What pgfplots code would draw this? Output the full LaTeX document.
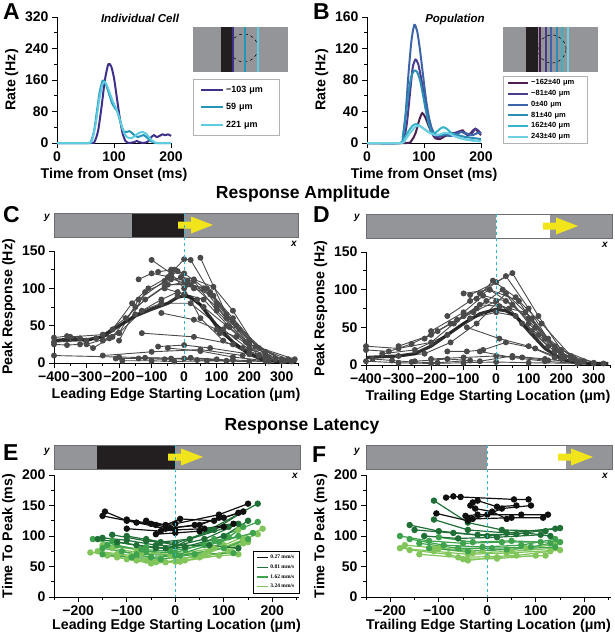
\documentclass[border=0pt]{standalone}
\usepackage{pgfplots}
\pgfplotsset{compat=1.18}
\usepackage{fontspec}
\setmainfont{Liberation Sans}
\newfontfamily\serif{Liberation Serif}
\definecolor{cgray}{HTML}{4A4A4A}
\definecolor{stimgray}{HTML}{939598}
\definecolor{stimedge}{HTML}{6D6E71}
\definecolor{stimblack}{HTML}{231F20}
\definecolor{cyanline}{HTML}{35B6C9}
\definecolor{yel}{HTML}{F1E41B}
\definecolor{a1}{HTML}{3D2F8A}
\definecolor{a2}{HTML}{2596B8}
\definecolor{a3}{HTML}{5FCBE0}
\definecolor{b1}{HTML}{4A1F4F}
\definecolor{b2}{HTML}{4A3B8C}
\definecolor{b3}{HTML}{3D64A8}
\definecolor{b4}{HTML}{2B8DB5}
\definecolor{b5}{HTML}{35B3C8}
\definecolor{b6}{HTML}{6FD0E3}
\definecolor{g1}{HTML}{101010}
\definecolor{g2}{HTML}{1F6F36}
\definecolor{g3}{HTML}{3FA34D}
\definecolor{g4}{HTML}{82C55B}
\pgfplotsset{
 base/.style={scale only axis, axis lines=left, axis line style={-, black, line width=0.8pt},
  tick align=outside, tick style={black, line width=0.8pt}, major tick length=5pt, minor tick length=3pt,
  tick label style={font=\fontsize{14}{14}\selectfont\bfseries},
  label style={font=\fontsize{14.2}{15}\selectfont\bfseries},
  /pgf/number format/assume math mode=true, clip=false},
 cc/.style={color=cgray, line width=0.9pt, mark=*, mark size=2.5pt, mark options={solid, fill=cgray, draw=cgray}},
 mean/.style={color=black!90, line width=3.2pt, mark=none, opacity=0.9},
 e1/.style={color=g1, line width=1.2pt, mark=*, mark size=2.6pt, mark options={solid,fill=g1,draw=g1}},
 e2/.style={color=g2, line width=1.2pt, mark=*, mark size=2.6pt, mark options={solid,fill=g2,draw=g2}},
 e3/.style={color=g3, line width=1.2pt, mark=*, mark size=2.6pt, mark options={solid,fill=g3,draw=g3}},
 e4/.style={color=g4, line width=1.2pt, mark=*, mark size=2.6pt, mark options={solid,fill=g4,draw=g4}},
 cur/.style={line width=2pt, smooth, tension=0.4, mark=none},
}
\newcommand{\yarrow}[2]{\fill[yel, shift={(#1pt,-#2pt)}] (0pt,3.5pt) -- (13pt,3.5pt) -- (13pt,8.5pt) -- (35pt,0pt) -- (13pt,-8.5pt) -- (13pt,-3.5pt) -- (0pt,-3.5pt) -- cycle;}
\begin{document}
\begin{tikzpicture}
\useasboundingbox (0,0) rectangle (614pt,-639pt);
% ---------- insets A, B
\fill[stimgray] (193pt,-27pt) rectangle (288pt,-72pt);
\draw[dashed, line width=0.5pt] (244pt,-48pt) circle (14pt);
\fill[stimblack] (221pt,-27pt) rectangle (232pt,-72pt);
\draw[a1, line width=1.5pt] (233pt,-27pt) -- (233pt,-72pt);
\draw[a2, line width=1.5pt] (245pt,-27pt) -- (245pt,-72pt);
\draw[a3, line width=1.5pt] (258pt,-27pt) -- (258pt,-72pt);
\fill[stimgray] (503pt,-27pt) rectangle (598pt,-72pt);
\draw[dashed, line width=0.5pt] (552pt,-49pt) circle (14pt);
\fill[stimblack] (526pt,-27pt) rectangle (538pt,-72pt);
\draw[b1, line width=1.3pt] (540pt,-27pt) -- (540pt,-72pt);
\draw[b2, line width=1.3pt] (546pt,-27pt) -- (546pt,-72pt);
\draw[b3, line width=1.3pt] (551pt,-27pt) -- (551pt,-72pt);
\draw[b4, line width=1.3pt] (557pt,-27pt) -- (557pt,-72pt);
\draw[b5, line width=1.3pt] (562pt,-27pt) -- (562pt,-72pt);
\draw[b6, line width=1.3pt] (568pt,-27pt) -- (568pt,-72pt);
% ---------- stimulus bars
\fill[stimgray] (54pt,-213pt) rectangle (298pt,-237pt);
\fill[stimblack] (132pt,-213pt) rectangle (184pt,-237pt);
\draw[stimedge, line width=0.6pt] (54pt,-213pt) rectangle (298pt,-237pt);
\yarrow{178}{225}
\fill[stimgray] (366pt,-214pt) rectangle (612pt,-238pt);
\fill[white] (496pt,-214pt) rectangle (550pt,-238pt);
\draw[stimedge, line width=0.6pt] (366pt,-214pt) rectangle (612pt,-238pt);
\yarrow{543}{226}
\fill[stimgray] (54pt,-445pt) rectangle (300pt,-469pt);
\fill[stimblack] (97pt,-445pt) rectangle (175pt,-469pt);
\draw[stimedge, line width=0.6pt] (54pt,-445pt) rectangle (300pt,-469pt);
\yarrow{168}{457}
\fill[stimgray] (366pt,-445pt) rectangle (612pt,-469pt);
\fill[white] (487pt,-445pt) rectangle (566pt,-469pt);
\draw[stimedge, line width=0.6pt] (366pt,-445pt) rectangle (612pt,-469pt);
\yarrow{558}{457}
\foreach \px/\py in {47/218, 357/218, 47/452, 357/452} {\node[font=\fontsize{10}{10}\selectfont\bfseries\itshape] at (\px pt,-\py pt) {y};}
\foreach \px/\py in {294/244, 605/245, 295/476, 605/476} {\node[font=\fontsize{10}{10}\selectfont\bfseries\itshape] at (\px pt,-\py pt) {x};}
% ---------- labels
\foreach \l/\px/\py in {A/3/20, B/313/20, C/3/222, D/313/222, E/3/460, F/312/462} {\node[anchor=base west, inner sep=0pt, font=\fontsize{23}{23}\selectfont\bfseries] at (\px pt,-\py pt) {\l};}
\node[anchor=base, inner sep=0pt, font=\fontsize{17.5}{17.5}\selectfont\bfseries] at (303pt,-198pt) {Response Amplitude};
\node[anchor=base, inner sep=0pt, font=\fontsize{17.5}{17.5}\selectfont\bfseries] at (302pt,-430pt) {Response Latency};
\node[anchor=base, inner sep=0pt, font=\fontsize{11.5}{11.5}\selectfont\bfseries\itshape] at (140pt,-23pt) {Individual Cell};
\node[anchor=base, inner sep=0pt, font=\fontsize{11.5}{11.5}\selectfont\bfseries\itshape] at (455pt,-23pt) {Population};
% ---------- A
\begin{axis}[base, at={(57pt,-143pt)}, anchor=south west, width=114pt, height=126pt,
 xmin=0, xmax=200, ymin=0, ymax=320, xtick={0,100,200}, ytick={0,80,160,240,320}, minor ytick={40,120,200,280},
 xlabel={Time from Onset (ms)}, ylabel={Rate (Hz)}, legend cell align=left,
 legend style={at={(1.193,0.508)}, anchor=north west, draw=gray!60, font=\fontsize{9}{9}\selectfont\bfseries, row sep=5.5pt, inner xsep=7pt, inner ysep=5pt, text width=44pt},
 legend image code/.code={\draw[#1, mark=none] (0pt,0pt) -- (22pt,0pt);}]
\addplot[cur, a1] coordinates {(0,0)(60,0)(66,4)(72,30)(78,90)(84,160)(90,200)(95,195)(100,165)(105,115)(110,65)(115,25)(120,5)(125,0)(135,2)(140,5)(145,2)(152,0)(160,4)(165,14)(170,20)(175,15)(180,18)(185,22)(190,20)(195,22)(200,18)};
\addlegendentry{−103 μm}
\addplot[cur, a2] coordinates {(0,0)(55,0)(60,5)(65,30)(70,80)(75,130)(80,158)(84,155)(88,140)(92,122)(97,100)(102,88)(106,80)(110,60)(114,40)(118,28)(122,28)(127,30)(132,25)(137,18)(142,15)(147,18)(152,20)(157,15)(162,8)(167,3)(172,0)(200,0)};
\addlegendentry{59 μm}
\addplot[cur, a3] coordinates {(0,0)(55,0)(62,10)(68,50)(74,110)(80,150)(84,155)(88,145)(93,125)(98,105)(103,90)(108,70)(113,45)(118,25)(123,15)(130,12)(137,18)(143,25)(150,28)(155,25)(160,18)(165,8)(170,3)(176,0)(200,0)};
\addlegendentry{221 μm}
\end{axis}
% ---------- B
\begin{axis}[base, at={(367pt,-143pt)}, anchor=south west, width=114pt, height=126pt,
 xmin=0, xmax=200, ymin=0, ymax=160, xtick={0,100,200}, ytick={0,40,80,120,160}, minor ytick={20,60,100,140},
 xlabel={Time from Onset (ms)}, ylabel={Rate (Hz)}, legend cell align=left,
 legend style={at={(1.193,0.532)}, anchor=north west, draw=gray!60, font=\fontsize{7.5}{7.5}\selectfont\bfseries, row sep=0pt, inner xsep=4pt, inner ysep=1.5pt, text width=50pt},
 legend image code/.code={\draw[#1, mark=none] (0pt,0pt) -- (20pt,0pt);}]
\addplot[cur, b1] coordinates {(0,0)(70,0)(78,3)(85,12)(92,30)(97,38)(102,33)(108,22)(114,12)(120,6)(128,5)(135,8)(142,10)(150,10)(157,12)(163,15)(168,16)(173,12)(178,10)(185,15)(190,18)(195,14)(200,10)};
\addlegendentry{−162±40 μm}
\addplot[cur, b2] coordinates {(0,0)(60,0)(65,5)(70,25)(75,60)(80,95)(85,106)(90,100)(95,82)(100,62)(105,40)(110,22)(115,12)(120,8)(128,8)(135,10)(145,12)(155,13)(163,15)(170,13)(178,10)(185,13)(190,18)(195,16)(200,12)};
\addlegendentry{−81±40 μm}
\addplot[cur, b3] coordinates {(0,0)(58,0)(63,8)(68,40)(73,90)(78,130)(83,150)(88,142)(93,118)(98,88)(103,58)(108,35)(113,20)(118,12)(125,10)(135,10)(145,9)(155,10)(165,14)(175,12)(185,10)(195,13)(200,12)};
\addlegendentry{0±40 μm}
\addplot[cur, b4] coordinates {(0,0)(58,0)(63,8)(68,35)(73,65)(78,85)(83,92)(88,90)(93,80)(98,62)(103,42)(108,25)(113,15)(120,10)(130,10)(140,12)(150,12)(160,10)(170,8)(180,7)(190,6)(200,5)};
\addlegendentry{81±40 μm}
\addplot[cur, b5] coordinates {(0,0)(58,0)(65,5)(72,14)(80,22)(86,24)(92,22)(100,18)(108,14)(115,12)(122,14)(128,18)(134,20)(140,18)(146,14)(152,10)(160,7)(170,5)(180,4)(190,3)(200,2)};
\addlegendentry{162±40 μm}
\addplot[cur, b6] coordinates {(0,0)(60,0)(68,5)(76,13)(84,20)(90,22)(96,20)(104,16)(112,12)(120,10)(128,11)(136,13)(144,12)(152,9)(160,7)(170,5)(185,3)(200,2)};
\addlegendentry{243±40 μm}
\end{axis}
% ---------- C
\begin{axis}[base, at={(54pt,-363pt)}, anchor=south west, width=244pt, height=112pt,
 xmin=-400, xmax=350, ymin=0, ymax=150, xtick={-400,-300,...,300}, xticklabels={−400,−300,−200,−100,0,100,200,300},
 minor xtick={-350,-250,...,350}, ytick={0,50,100,150}, minor ytick={25,75,125},
 xlabel={Leading Edge Starting Location (μm)}, ylabel={Peak Response (Hz)}]
\addplot[cc] coordinates {(-100,138)(-40,120)(0,100)(50,60)(120,30)(200,12)(300,3)};
\addplot[cc] coordinates {(-30,125)(0,139)(20,138)(100,80)(200,25)(340,5)};
\addplot[cc] coordinates {(50,141)(130,65)(200,30)(300,5)};
\addplot[cc] coordinates {(-80,122)(-40,125)(0,120)(80,95)(150,55)(250,15)};
\addplot[cc] coordinates {(-140,112)(-100,120)(-40,115)(10,110)(100,75)(200,20)};
\addplot[cc] coordinates {(-250,30)(-200,40)(-140,85)(-60,110)(-20,123)(30,100)(90,90)(170,45)(260,8)};
\addplot[cc] coordinates {(-300,25)(-220,35)(-150,75)(-50,105)(20,105)(80,92)(160,50)(250,10)};
\addplot[cc] coordinates {(-200,30)(-120,95)(-40,112)(30,110)(100,70)(200,25)};
\addplot[cc] coordinates {(-350,35)(-250,38)(-180,60)(-120,85)(-60,103)(0,108)(60,100)(130,60)(200,30)(300,4)};
\addplot[cc] coordinates {(-150,65)(-70,85)(-20,95)(60,85)(140,48)(230,10)};
\addplot[cc] coordinates {(-400,28)(-300,30)(-200,40)(-130,70)(-70,80)(20,80)(120,45)(200,18)(330,2)};
\addplot[cc] coordinates {(-70,67)(30,58)(100,45)(160,35)(250,8)};
\addplot[cc] coordinates {(-130,40)(30,35)(150,25)(250,5)};
\addplot[cc] coordinates {(-80,22)(0,24)(80,20)(200,12)};
\addplot[cc] coordinates {(-50,20)(50,16)(150,8)(250,3)};
\addplot[cc] coordinates {(-250,10)(-100,15)(50,18)(180,10)};
\addplot[cc] coordinates {(-400,10)(-200,8)(0,6)(150,4)(300,2)};
\addplot[cc] coordinates {(-210,6)(-140,6)(-60,5)(20,7)(100,5)};
\addplot[cc] coordinates {(-190,3)(-100,3)(-30,2)(70,3)(200,2)};
\addplot[cc] coordinates {(-120,7)(-40,6)(40,4)(130,3)(260,2)};
\addplot[cc] coordinates {(-400,34)(-360,36)(-320,33)(-280,20)(-230,33)};
\addplot[cc] coordinates {(-400,25)(-360,24)(-320,25)(-270,33)(-220,45)(-160,80)(-110,100)(-50,115)(10,105)(70,100)(150,60)(230,20)(320,5)};
\addplot[cc] coordinates {(-20,90)(40,85)(110,40)(180,20)(260,5)};
\addplot[cc] coordinates {(-60,100)(0,92)(60,75)(130,50)(190,28)(280,5)};
\addplot[cc] coordinates {(-10,115)(30,112)(90,102)(150,70)(220,22)(310,3)};
\addplot[mean] coordinates {(-400,30)(-350,32)(-300,31)(-250,35)(-200,50)(-150,63)(-100,72)(-50,80)(-20,88)(0,90)(20,88)(50,78)(100,50)(150,28)(200,12)(250,3)(300,2)(345,2)};
\end{axis}
% ---------- D
\begin{axis}[base, at={(366pt,-365pt)}, anchor=south west, width=244pt, height=113pt,
 xmin=-400, xmax=350, ymin=0, ymax=150, xtick={-400,-300,...,300}, xticklabels={−400,−300,−200,−100,0,100,200,300},
 minor xtick={-350,-250,...,350}, ytick={0,50,100,150}, minor ytick={25,75,125},
 xlabel={Trailing Edge Starting Location (μm)}, ylabel={Peak Response (Hz)}]
\addplot[cc] coordinates {(-80,93)(0,110)(50,122)(130,65)(200,20)(300,3)};
\addplot[cc] coordinates {(-50,95)(30,118)(100,75)(180,20)(260,5)};
\addplot[cc] coordinates {(-60,88)(-10,112)(60,90)(150,35)(230,8)};
\addplot[cc] coordinates {(-150,65)(-80,85)(-20,100)(50,80)(120,50)(200,15)};
\addplot[cc] coordinates {(-200,45)(-100,70)(-40,92)(30,85)(100,62)(180,25)(270,5)};
\addplot[cc] coordinates {(-300,25)(-200,40)(-120,60)(-50,80)(10,78)(90,70)(160,35)(240,8)};
\addplot[cc] coordinates {(-400,25)(-300,22)(-200,30)(-130,55)(-60,75)(20,100)(100,55)(200,15)};
\addplot[cc] coordinates {(-350,15)(-250,20)(-150,40)(-80,62)(0,70)(60,65)(130,40)(210,10)};
\addplot[cc] coordinates {(-400,20)(-330,18)(-260,28)(-180,45)(-100,65)(-30,85)(40,75)(110,45)(180,18)(260,4)};
\addplot[cc] coordinates {(-90,50)(10,35)(100,25)(180,10)};
\addplot[cc] coordinates {(-150,18)(-90,18)(-40,20)(30,30)(120,22)(200,8)};
\addplot[cc] coordinates {(-200,8)(-100,10)(0,12)(80,10)(160,6)};
\addplot[cc] coordinates {(-250,5)(-150,8)(-50,5)(50,12)(150,8)(250,3)};
\addplot[cc] coordinates {(-400,5)(-300,3)(-200,2)(-100,3)(0,4)(100,3)(300,2)};
\addplot[cc] coordinates {(-380,8)(-320,6)(-260,4)(-180,3)(-80,6)};
\addplot[cc] coordinates {(-100,95)(-20,100)(70,85)(140,55)(230,12)};
\addplot[cc] coordinates {(-220,35)(-140,55)(-70,70)(0,85)(80,55)(160,25)};
\addplot[cc] coordinates {(-50,18)(50,10)(150,5)(250,2)};
\addplot[cc] coordinates {(-300,12)(-220,15)(-140,30)(-60,55)(30,95)(110,62)(200,12)(330,2)};
\addplot[mean] coordinates {(-400,10)(-350,11)(-300,12)(-250,15)(-200,25)(-150,40)(-100,55)(-50,68)(0,74)(30,72)(60,65)(100,45)(150,22)(200,8)(250,3)(300,2)(345,2)};
\end{axis}
% ---------- E
\begin{axis}[base, at={(54pt,-597pt)}, anchor=south west, width=245pt, height=122pt,
 xmin=-250, xmax=255, ymin=0, ymax=200, xtick={-200,-100,0,100,200}, xticklabels={−200,−100,0,100,200},
 minor xtick={-250,-150,-50,50,150,250}, ytick={0,50,100,150,200}, minor ytick={25,75,125,175},
 xlabel={Leading Edge Starting Location (μm)}, ylabel={Time To Peak (ms)}, xlabel style={yshift=3pt}, legend cell align=left,
 legend style={at={(1.0,0.033)}, anchor=south east, draw=black, font=\serif\bfseries\fontsize{5.5}{5.5}\selectfont, row sep=0.6pt, inner xsep=2.5pt, inner ysep=1.5pt},
 legend image code/.code={\draw[#1, mark=none, line width=1.3pt] (0pt,0pt) -- (11pt,0pt);}]
\addlegendimage{g1}\addlegendentry{0.27 mm/s}
\addlegendimage{g2}\addlegendentry{0.81 mm/s}
\addlegendimage{g3}\addlegendentry{1.62 mm/s}
\addlegendimage{g4}\addlegendentry{3.24 mm/s}
\addplot[e4] coordinates {(-175,73)(-120,70)(-60,60)(0,58)(100,85)(180,112)};
\addplot[e4] coordinates {(-140,68)(-80,60)(-20,57)(60,70)(170,103)};
\addplot[e4] coordinates {(-120,65)(-50,55)(10,58)(90,68)(150,90)};
\addplot[e4] coordinates {(-100,62)(-40,57)(20,60)(110,75)(140,95)};
\addplot[e4] coordinates {(-160,75)(-90,68)(-30,63)(50,65)(130,70)};
\addplot[e4] coordinates {(-130,80)(-70,72)(0,70)(80,80)(130,110)};
\addplot[e4] coordinates {(-150,85)(-80,78)(-10,68)(70,75)(140,88)};
\addplot[e3] coordinates {(-170,95)(-120,85)(-60,75)(0,72)(80,95)(170,123)};
\addplot[e3] coordinates {(-150,80)(-80,70)(0,68)(90,90)(160,105)};
\addplot[e3] coordinates {(-140,85)(-70,78)(-10,75)(60,85)(130,100)};
\addplot[e3] coordinates {(-110,75)(-50,65)(10,68)(100,80)(150,95)};
\addplot[e3] coordinates {(-150,70)(-90,65)(-30,62)(40,70)(120,72)};
\addplot[e3] coordinates {(-130,92)(-60,82)(20,78)(110,98)(140,115)};
\addplot[e2] coordinates {(-150,97)(-100,93)(-40,85)(0,83)(70,110)(170,153)};
\addplot[e2] coordinates {(-130,102)(-60,92)(0,88)(80,110)(140,140)};
\addplot[e2] coordinates {(-160,95)(-80,85)(-20,80)(60,95)(130,120)};
\addplot[e2] coordinates {(-120,90)(-40,80)(20,82)(100,100)(150,125)};
\addplot[e2] coordinates {(-100,100)(-30,90)(30,95)(110,115)};
\addplot[e2] coordinates {(-60,95)(0,85)(70,85)(130,80)};
\addplot[e1] coordinates {(-145,140)(-100,125)(-40,118)(0,120)(90,135)(150,153)};
\addplot[e1] coordinates {(-150,133)(-80,122)(-20,112)(40,118)(100,130)(140,140)};
\addplot[e1] coordinates {(-100,112)(-30,108)(0,110)(60,112)(120,120)};
\addplot[e1] coordinates {(-60,125)(-20,118)(10,128)(80,125)(130,138)};
\addplot[e1] coordinates {(-40,103)(0,105)(50,108)(100,115)};
\addplot[e1] coordinates {(-100,127)(-50,120)(-10,113)(50,118)(90,130)};
\end{axis}
% ---------- F
\begin{axis}[base, at={(366pt,-597pt)}, anchor=south west, width=245pt, height=122pt,
 xmin=-250, xmax=255, ymin=0, ymax=200, xtick={-200,-100,0,100,200}, xticklabels={−200,−100,0,100,200},
 minor xtick={-250,-150,-50,50,150,250}, ytick={0,50,100,150,200}, minor ytick={25,75,125,175},
 xlabel={Trailing Edge Starting Location (μm)}, ylabel={Time To Peak (ms)}, xlabel style={yshift=3pt}]
\addplot[e4] coordinates {(-180,80)(-110,75)(-40,70)(40,72)(150,77)};
\addplot[e4] coordinates {(-160,77)(-80,70)(-40,60)(20,65)(120,68)};
\addplot[e4] coordinates {(-140,70)(-60,65)(0,66)(60,68)(130,75)};
\addplot[e4] coordinates {(-110,80)(-30,72)(50,75)(140,80)};
\addplot[e4] coordinates {(-50,62)(20,63)(100,68)};
\addplot[e4] coordinates {(-170,85)(-100,80)(-10,76)(80,80)(140,86)};
\addplot[e3] coordinates {(-180,100)(-120,92)(-50,88)(30,90)(150,90)};
\addplot[e3] coordinates {(-160,95)(-90,85)(-10,82)(70,85)(140,95)};
\addplot[e3] coordinates {(-140,88)(-60,80)(10,80)(90,82)(130,88)};
\addplot[e3] coordinates {(-100,98)(-30,90)(50,92)(110,90)};
\addplot[e3] coordinates {(-120,80)(-40,75)(40,78)(140,82)};
\addplot[e2] coordinates {(-110,158)(-40,122)(30,110)(120,108)};
\addplot[e2] coordinates {(-110,127)(-40,110)(40,105)(150,113)};
\addplot[e2] coordinates {(-160,118)(-100,108)(-20,102)(60,103)(140,112)};
\addplot[e2] coordinates {(-150,110)(-70,105)(0,100)(80,105)(130,100)};
\addplot[e2] coordinates {(-130,100)(-60,96)(20,98)(110,102)};
\addplot[e1] coordinates {(-85,163)(-70,165)(-55,164)(55,160)(85,160)};
\addplot[e1] coordinates {(-30,155)(-20,158)(20,148)(60,150)};
\addplot[e1] coordinates {(-40,130)(-30,128)(50,130)(115,130)};
\addplot[e1] coordinates {(-45,133)(-20,135)(70,135)(125,135)};
\addplot[e1] coordinates {(-105,137)(-40,125)(0,135)(30,145)(90,150)};
\addplot[e1] coordinates {(-35,150)(-25,145)(10,140)(40,128)};
\end{axis}
% ---------- dashed lines
\draw[cyanline, dashed, line width=0.9pt] (184pt,-213pt) -- (184pt,-363pt);
\draw[cyanline, dashed, line width=0.9pt] (496.5pt,-214pt) -- (496.5pt,-365pt);
\draw[cyanline, dashed, line width=0.9pt] (175.3pt,-445pt) -- (175.3pt,-597pt);
\draw[cyanline, dashed, line width=0.9pt] (487.3pt,-445pt) -- (487.3pt,-597pt);
\end{tikzpicture}
\end{document}
